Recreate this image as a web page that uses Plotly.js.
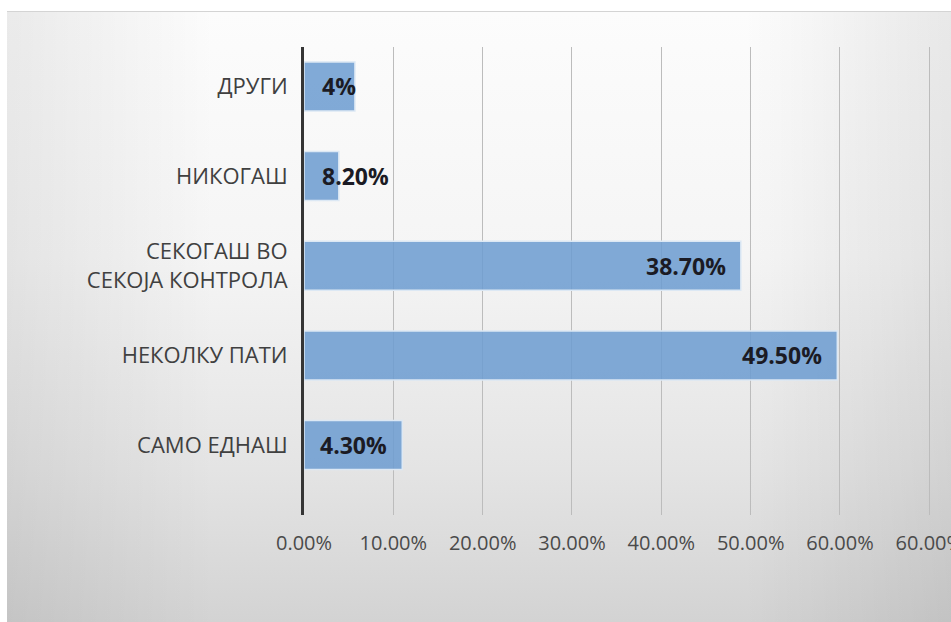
<!DOCTYPE html>
<html>
<head>
<meta charset="utf-8">
<script src="https://cdn.plot.ly/plotly-3.0.1.min.js"></script>
<style>
  html, body { margin: 0; padding: 0; background: #ffffff; width: 951px; height: 622px; overflow: hidden; }
  #bg {
    position: absolute; left: 7px; top: 11px; right: 0; bottom: 0;
    border-top: 1px solid #d4d4d4;
    background:
      linear-gradient(to right, rgba(0,0,0,0.07) 0%, rgba(0,0,0,0) 22%, rgba(0,0,0,0) 78%, rgba(0,0,0,0.08) 100%),
      linear-gradient(to bottom, #fcfcfc 0%, #f5f5f5 40%, #e4e4e4 75%, #d3d3d3 100%);
  }
  #chart { position: absolute; left: 0; top: 0; width: 951px; height: 622px; }
</style>
</head>
<body>
<div id="bg"></div>
<div id="chart"></div>
<script>
// Categories, top to bottom as shown
const categories = ['ДРУГИ', 'НИКОГАШ', 'СЕКОГАШ ВО<br>СЕКОЈА КОНТРОЛА', 'НЕКОЛКУ ПАТИ', 'САМО ЕДНАШ'];
// Bar lengths as drawn (percent on the axis scale)
const barValues = [5.7, 3.9, 48.9, 59.7, 11.0];
// Data labels as printed on the bars
const barLabels = ['4%', '8.20%', '38.70%', '49.50%', '4.30%'];
// Axis ticks
const tickValues = [0, 10, 20, 30, 40, 50, 60, 70];
const tickLabels = ['0.00%', '10.00%', '20.00%', '30.00%', '40.00%', '50.00%', '60.00%', '60.00%'];

const FONT = '"Open Sans", "Noto Sans", "DejaVu Sans", sans-serif';

const trace = {
  type: 'bar',
  orientation: 'h',
  x: barValues,
  y: categories,
  width: 0.547,
  marker: { color: 'rgba(108,156,208,0.86)', line: { color: '#dce8f4', width: 1.5 } },
  hoverinfo: 'none'
};

const annotations = barValues.map((v, i) => {
  const small = v < 8;
  return {
    x: small ? 0 : v,
    y: categories[i],
    xref: 'x', yref: 'y',
    text: barLabels[i],
    showarrow: false,
    xanchor: small ? 'left' : 'right',
    xshift: small ? 16 : -13,
    yanchor: 'middle',
    font: { family: FONT, size: 23, color: '#1b1b24', weight: 700 }
  };
});

const layout = {
  width: 951, height: 622,
  margin: { l: 304, r: 19, t: 47, b: 107 },
  paper_bgcolor: 'rgba(0,0,0,0)',
  plot_bgcolor: 'rgba(0,0,0,0)',
  showlegend: false,
  xaxis: {
    range: [0, 70.3],
    tickvals: tickValues,
    ticktext: tickLabels,
    showgrid: true,
    gridcolor: '#bcbcbc',
    gridwidth: 1,
    zeroline: false,
    showline: false,
    ticks: '',
    ticklabelstandoff: 14,
    ticklabeloverflow: 'allow',
    tickfont: { family: FONT, size: 20, color: '#4a4a4a' },
    fixedrange: true
  },
  yaxis: {
    type: 'category',
    range: [4.78, -0.44],
    showgrid: false,
    zeroline: false,
    showline: true,
    linecolor: '#353535',
    linewidth: 3,
    ticks: '',
    ticklabelstandoff: 9,
    tickfont: { family: FONT, size: 22, color: '#404040' },
    fixedrange: true
  },
  annotations: annotations
};

Plotly.newPlot('chart', [trace], layout, { displayModeBar: false, staticPlot: true });
</script>
</body>
</html>
